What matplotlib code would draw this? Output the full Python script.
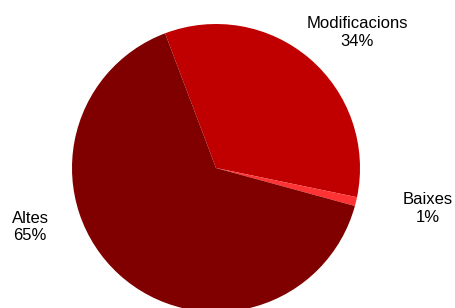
import matplotlib.pyplot as plt

categories = ['Modificacions', 'Baixes', 'Altes']
values = [34, 1, 65]
colors = ['#C00000', '#FF3333', '#800000']

# label spots (data units relative to pie centre)
label_pos = [(0.98, 0.94), (1.47, -0.28), (-1.29, -0.41)]

plt.rcParams['font.family'] = ['Liberation Sans', 'DejaVu Sans']

fig = plt.figure(figsize=(4.55, 3.08), dpi=100)
ax = fig.add_axes([0, 0, 1, 1])

wedges, _ = ax.pie(values, colors=colors, startangle=110.7, counterclock=False,
                   radius=1.0, center=(0, 0))

for name, val, (x, y) in zip(categories, values, label_pos):
    ax.text(x, y, f'{name}\n{val}%', ha='center', va='center',
            fontsize=12, linespacing=1.2, color='black')

ax.set_xlim(-216 / 144, (455 - 216) / 144)
ax.set_ylim(-140 / 144, 168 / 144)
ax.set_aspect('auto')
ax.axis('off')

fig.savefig('out.png', dpi=100, facecolor='white')
